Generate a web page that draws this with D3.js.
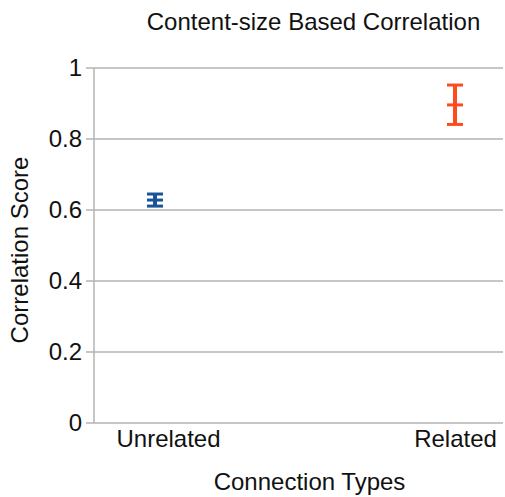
<!DOCTYPE html>
<html>
<head>
<meta charset="utf-8">
<script src="https://cdn.jsdelivr.net/npm/d3@7"></script>
<style>
  body { margin: 0; background: #fff; }
  text { font-family: "Liberation Sans", Arial, sans-serif; fill: #111; }
</style>
</head>
<body>
<div id="chart"></div>
<script>
var categories = ['Unrelated', 'Related'];
var means = [0.628, 0.896];
var lows = [0.611, 0.841];
var highs = [0.645, 0.952];
var colors = ['#1b5496', '#ff4a1c'];
var yTicks = [0, 0.2, 0.4, 0.6, 0.8, 1];

var margin = { top: 68, left: 94, bottom: 74, right: 2 },
    width = 505 - margin.left - margin.right,
    height = 497 - margin.top - margin.bottom;

var svg = d3.select('#chart').append('svg')
    .attr('width', 505)
    .attr('height', 497)
    .append('g')
    .attr('transform', 'translate(' + margin.left + ',' + margin.top + ')');

var data = categories.map((c, i) => ({ cat: c, mean: means[i], lo: lows[i], hi: highs[i], color: colors[i] }));

var x = d3.scalePoint()
    .domain(categories)
    .range([61, 361]);

var y = d3.scaleLinear()
    .domain([0, 1])
    .range([height, 0]);

// gridlines
svg.selectAll('.grid')
    .data(yTicks)
    .enter()
    .append('line')
    .attr('class', 'grid')
    .attr('x1', -8)
    .attr('x2', width)
    .attr('y1', d => y(d))
    .attr('y2', d => y(d))
    .attr('stroke', '#b3b3b3')
    .attr('stroke-width', 1.5);

// y axis line
svg.append('line')
    .attr('x1', 0).attr('x2', 0)
    .attr('y1', y(1)).attr('y2', height)
    .attr('stroke', '#b3b3b3')
    .attr('stroke-width', 1.5);

var yAxis = d3.axisLeft(y)
    .tickValues(yTicks)
    .tickSize(0)
    .tickPadding(12)
    .tickFormat(d3.format('~g'));

svg.append('g')
    .attr('class', 'yAxis')
    .call(yAxis)
    .call(g => g.select('.domain').remove())
    .selectAll('text')
    .style('font-size', '24px')
    .style('font-family', '"Liberation Sans", Arial, sans-serif')
    .attr('fill', '#111');

var xAxis = d3.axisBottom(x)
    .tickSize(0)
    .tickPadding(7);

svg.append('g')
    .attr('class', 'xAxis')
    .attr('transform', 'translate(0,' + height + ')')
    .call(xAxis)
    .call(g => g.select('.domain').remove())
    .selectAll('text')
    .attr('dx', (d, i) => i == 0 ? 13 : 0)
    .style('font-size', '24px')
    .style('font-family', '"Liberation Sans", Arial, sans-serif')
    .attr('fill', '#111');

// error bars
var bars = svg.selectAll('.err')
    .data(data)
    .enter()
    .append('g')
    .attr('class', 'err');

bars.append('line')
    .attr('x1', d => x(d.cat)).attr('x2', d => x(d.cat))
    .attr('y1', d => y(d.hi)).attr('y2', d => y(d.lo))
    .attr('stroke', d => d.color)
    .attr('stroke-width', 4);

['hi', 'mean', 'lo'].forEach(k => {
    bars.append('line')
        .attr('x1', d => x(d.cat) - 8).attr('x2', d => x(d.cat) + 8)
        .attr('y1', d => y(d[k])).attr('y2', d => y(d[k]))
        .attr('stroke', d => d.color)
        .attr('stroke-width', 3);
});

svg.append('text')
    .attr('x', 219.5)
    .attr('y', -38)
    .attr('text-anchor', 'middle')
    .style('font-size', '24px')
    .text('Content-size Based Correlation');

svg.append('text')
    .attr('x', 215.5)
    .attr('y', height + 67)
    .attr('text-anchor', 'middle')
    .style('font-size', '24px')
    .text('Connection Types');

svg.append('text')
    .attr('transform', 'translate(-66,' + (250 - margin.top) + ') rotate(-90)')
    .attr('text-anchor', 'middle')
    .style('font-size', '24px')
    .text('Correlation Score');
</script>
</body>
</html>
